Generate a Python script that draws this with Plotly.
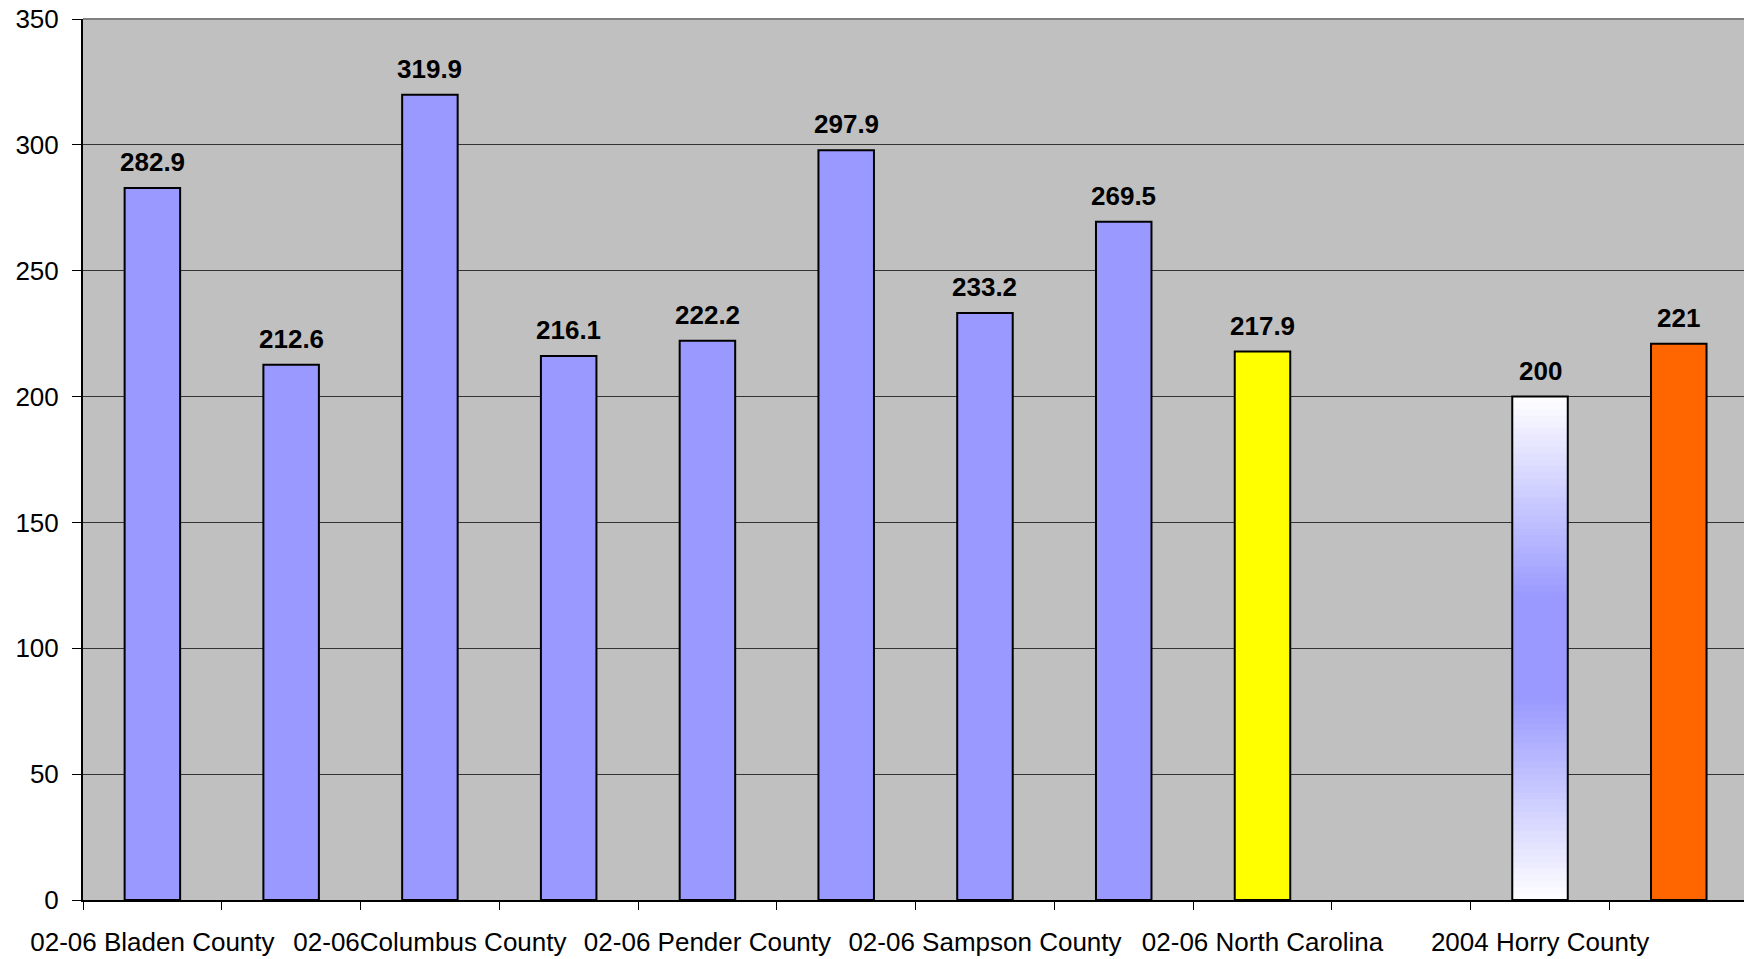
import plotly.graph_objects as go

# ---- data ----
positions = list(range(12))
values = [282.9, 212.6, 319.9, 216.1, 222.2, 297.9, 233.2, 269.5, 217.9, None, 200, 221]
bar_colors = ["#9999FF"] * 8 + ["#FFFF00", "#9999FF", "rgba(0,0,0,0)", "#FF6600"]
label_positions = [0, 2, 4, 6, 8, 10]
tick_labels = ["02-06 Bladen County", "02-06Columbus County", "02-06 Pender County",
               "02-06 Sampson County", "02-06 North Carolina", "2004 Horry County"]
gradient_index = 10  # bar drawn with a white-blue-white fill
y_ticks = [0, 50, 100, 150, 200, 250, 300, 350]

FONT = "Liberation Sans, Arial, sans-serif"
BAR_W = 0.4

fig = go.Figure()

# gradient fill for the Horry County bar (style only: the one value is split into bands)
gv = values[gradient_index]
n_bands = 80
band = gv / n_bands
def blend(f):
    t = (1 - abs(f - 0.5) / 0.5) * 1.25
    t = max(0.0, min(1.0, t))
    top = (255, 255, 255)
    mid = (153, 153, 255)
    return "rgb(%d,%d,%d)" % tuple(round(top[k] + (mid[k] - top[k]) * t) for k in range(3))
bases = [band * k for k in range(n_bands)]
fig.add_trace(go.Bar(
    x=[positions[gradient_index]] * n_bands,
    y=[min(2.5 * band, gv - b) for b in bases],
    base=bases,
    width=BAR_W,
    marker=dict(color=[blend((k + 0.5) / n_bands) for k in range(n_bands)], line=dict(width=0)),
    hoverinfo="skip", showlegend=False,
))

# main bars
fig.add_trace(go.Bar(
    x=positions, y=values, width=BAR_W,
    marker=dict(color=bar_colors, line=dict(color="black", width=2)),
    showlegend=False,
))

# value labels
for x, v in zip(positions, values):
    if v is None:
        continue
    fig.add_annotation(x=x, y=v, text="<b>%g</b>" % v, showarrow=False,
                       yanchor="bottom", yshift=9,
                       font=dict(family=FONT, size=26, color="black"))

fig.update_layout(
    width=1744, height=959,
    margin=dict(l=83, r=0, t=19, b=59),
    paper_bgcolor="white", plot_bgcolor="#C0C0C0",
    barmode="overlay",
    font=dict(family=FONT, size=26, color="black"),
    shapes=[dict(type="line", xref="paper", yref="paper", x0=0, x1=1, y0=1, y1=1,
                 line=dict(color="#808080", width=2))],
)
fig.update_xaxes(
    range=[-0.5, 11.47],
    tickmode="array", tickvals=label_positions, ticktext=tick_labels,
    ticks="", showgrid=False, zeroline=False,
    showline=True, linecolor="black", linewidth=2,
    ticklabelstandoff=18, automargin=False,
    minor=dict(tick0=-0.5, dtick=1, ticks="outside", ticklen=8, tickcolor="black",
               tickwidth=1, showgrid=False),
    tickfont=dict(family=FONT, size=26, color="black"),
)
fig.update_yaxes(
    range=[0, 350], tickmode="array", tickvals=y_ticks,
    ticks="outside", ticklen=9, tickcolor="black", tickwidth=1,
    showgrid=True, gridcolor="#333333", gridwidth=1, zeroline=False,
    showline=True, linecolor="black", linewidth=2,
    ticklabelstandoff=8, automargin=False,
    tickfont=dict(family=FONT, size=26, color="black"),
)

fig.write_html("out.html", config={"displayModeBar": False},
               post_script="document.body.style.margin='0';document.body.style.overflow='hidden';")
